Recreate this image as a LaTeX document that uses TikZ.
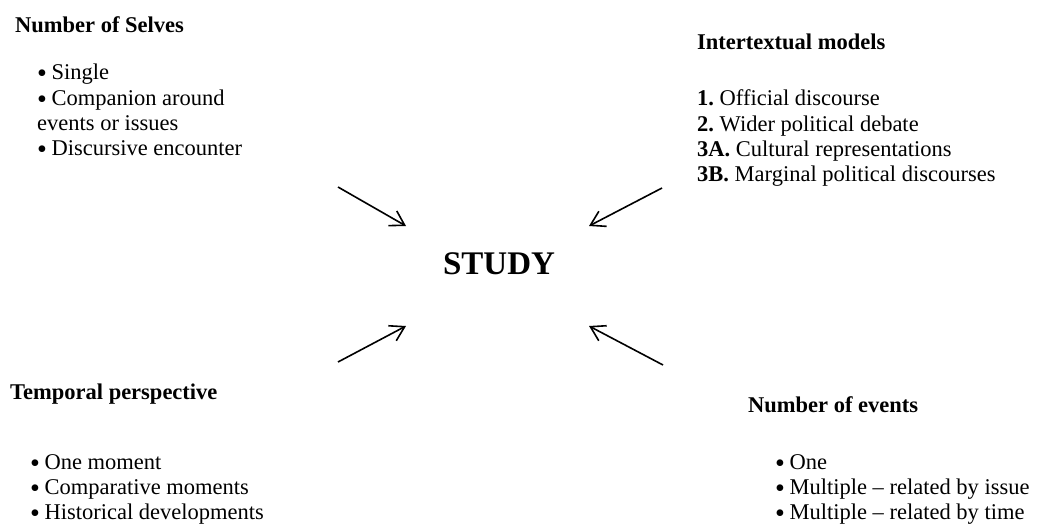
\documentclass[tikz,border=0pt]{standalone}
\usepackage{fontspec}
\setmainfont{Liberation Serif}
\usetikzlibrary{arrows.meta}
\newcommand{\bul}{\raisebox{-3.1pt}{\scalebox{1.25}{\textbullet}}\hspace{4.5pt}}
\begin{document}
\begin{tikzpicture}[x=1pt,y=-1pt,
  hd/.style={font=\fontsize{22.5}{25}\selectfont\bfseries, anchor=base west, inner sep=0pt},
  ln/.style={font=\fontsize{22.5}{25}\selectfont, anchor=base west, inner sep=0pt},
  big/.style={font=\fontsize{33}{36}\selectfont\bfseries, anchor=base, inner sep=0pt},
  arr/.style={line width=1.6pt, -{Straight Barb[length=14pt,width=17pt,line width=1.6pt]}}]
\useasboundingbox (0,0) rectangle (1041,528);
% top left
\node[hd] (selvesH) at (15,32) {Number of Selves};
\node[ln] (s1) at (37,79) {\bul Single};
\node[ln] (s2) at (37,105) {\bul Companion around};
\node[ln] (s3) at (37,130) {events or issues};
\node[ln] (s4) at (37,155) {\bul Discursive encounter};
% top right
\node[hd] (interH) at (697,49) {Intertextual models};
\node[ln] (i1) at (697,105) {\textbf{1.}~Official discourse};
\node[ln] (i2) at (697,131) {\textbf{2.}~Wider political debate};
\node[ln] (i3) at (697,156) {\textbf{3A.}~Cultural representations};
\node[ln] (i4) at (697,181) {\textbf{3B.}~Marginal political discourses};
% centre
\node[big] (study) at (499,274) {STUDY};
% bottom left
\node[hd] (tempH) at (10,399) {Temporal perspective};
\node[ln] (t1) at (30,469) {\bul One moment};
\node[ln] (t2) at (30,494) {\bul Comparative moments};
\node[ln] (t3) at (30,519) {\bul Historical developments};
% bottom right
\node[hd] (evH) at (748,412) {Number of events};
\node[ln] (e1) at (775,469) {\bul One};
\node[ln] (e2) at (775,494) {\bul Multiple -- related by issue};
\node[ln] (e3) at (775,519) {\bul Multiple -- related by time};
% arrows
\coordinate (a1s) at (338,187); \coordinate (a1e) at (406,226);
\coordinate (a2s) at (662,188); \coordinate (a2e) at (589,226);
\coordinate (a3s) at (338,362); \coordinate (a3e) at (406,326);
\coordinate (a4s) at (663,365); \coordinate (a4e) at (589,326);
\draw[arr] (a1s) -- (a1e);
\draw[arr] (a2s) -- (a2e);
\draw[arr] (a3s) -- (a3e);
\draw[arr] (a4s) -- (a4e);
\end{tikzpicture}
\end{document}
